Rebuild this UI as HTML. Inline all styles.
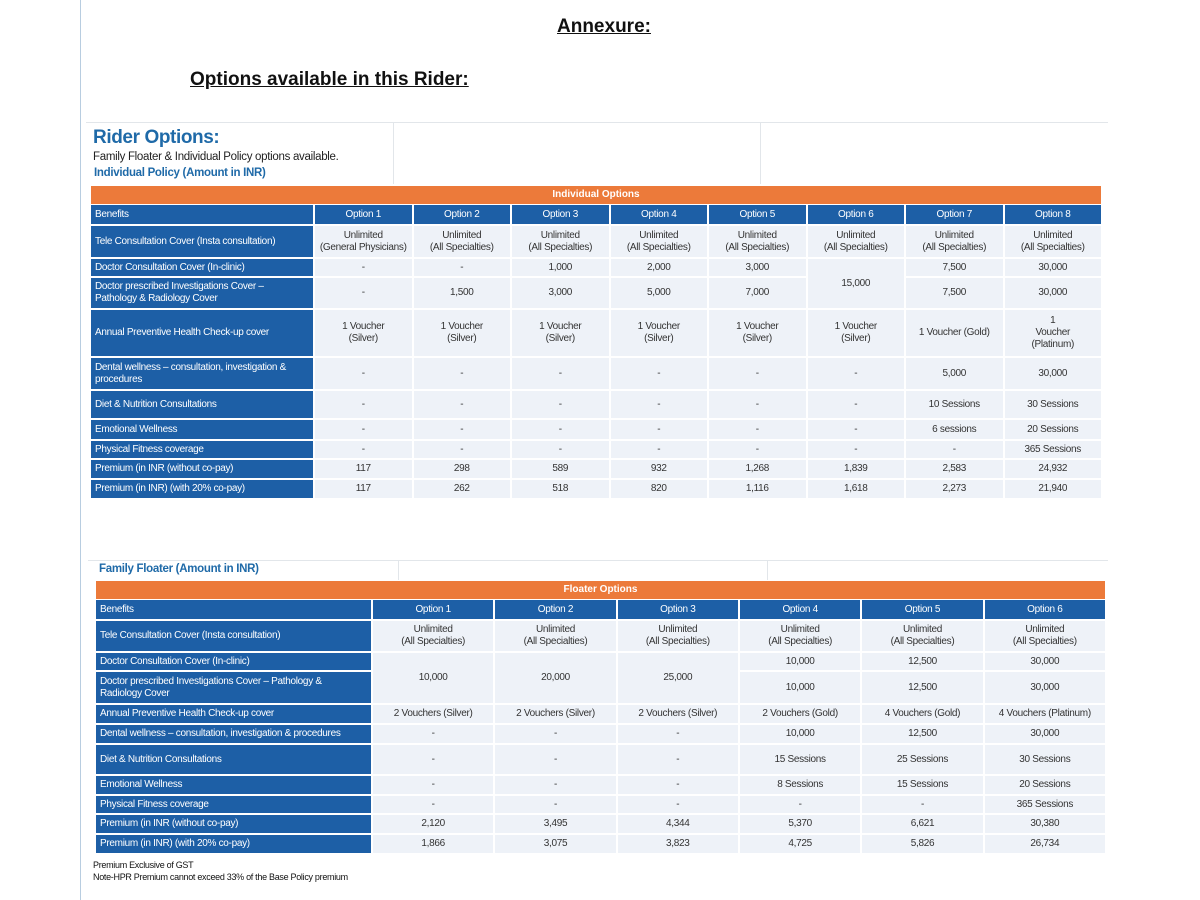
<!DOCTYPE html>
<html><head><meta charset="utf-8"><style>
body{margin:0;width:1200px;height:900px;background:#fff;position:relative;overflow:hidden;font-family:"Liberation Sans",sans-serif;}
.abs{position:absolute;}
h1{position:absolute;margin:0;font-size:19px;font-weight:bold;text-decoration:underline;color:#111;}
table{position:absolute;border-collapse:separate;border-spacing:2px;table-layout:fixed;font-size:10px;letter-spacing:-0.3px;}
td{padding:0;text-align:center;vertical-align:middle;background:#eef2f8;color:#333;line-height:12px;}
td.b{background:#1d5fa6;color:#fff;text-align:left;padding-left:4px;}
tr.h td{background:#1d5fa6;color:#fff;}
.or{position:absolute;background:#ec7a3a;color:#fff;font-weight:bold;font-size:10px;text-align:center;line-height:18px;height:18px;}
</style></head><body>
<div class="abs" style="left:80px;top:0;width:1px;height:900px;background:#b8cde0"></div>
<h1 style="left:557px;top:16px">Annexure:</h1>
<h1 style="left:190px;top:69px">Options available in this Rider:</h1>
<div class="abs" style="left:86px;top:122px;width:1022px;height:1px;background:#e2e6ea"></div>
<div class="abs" style="left:393px;top:122px;width:1px;height:62px;background:#e2e6ea"></div>
<div class="abs" style="left:760px;top:122px;width:1px;height:62px;background:#e2e6ea"></div>
<div class="abs" style="left:93px;top:127px;font-size:19px;font-weight:bold;color:#1f6aa8;letter-spacing:-0.4px">Rider Options:</div>
<div class="abs" style="left:93px;top:151px;font-size:11.5px;color:#222;letter-spacing:-0.3px">Family Floater &amp; Individual Policy options available.</div>
<div class="abs" style="left:94px;top:167px;font-size:11.5px;font-weight:bold;color:#1f6aa8;letter-spacing:-0.3px">Individual Policy (Amount in INR)</div>
<div class="or" style="left:91px;top:186px;width:1010px">Individual Options</div>
<table style="left:89px;top:203px;width:1014px">
<colgroup><col style="width:222px"><col><col><col><col><col><col><col><col></colgroup>
<tr class="h" style="height:19px"><td class="b">Benefits</td><td>Option 1</td><td>Option 2</td><td>Option 3</td><td>Option 4</td><td>Option 5</td><td>Option 6</td><td>Option 7</td><td>Option 8</td></tr>
<tr style="height:31px"><td class="b">Tele Consultation Cover (Insta consultation)</td><td>Unlimited<br>(General Physicians)</td><td>Unlimited<br>(All Specialties)</td><td>Unlimited<br>(All Specialties)</td><td>Unlimited<br>(All Specialties)</td><td>Unlimited<br>(All Specialties)</td><td>Unlimited<br>(All Specialties)</td><td>Unlimited<br>(All Specialties)</td><td>Unlimited<br>(All Specialties)</td></tr>
<tr style="height:17px"><td class="b">Doctor Consultation Cover (In-clinic)</td><td>-</td><td>-</td><td>1,000</td><td>2,000</td><td>3,000</td><td rowspan="2">15,000</td><td>7,500</td><td>30,000</td></tr>
<tr style="height:30px"><td class="b">Doctor prescribed Investigations Cover –<br>Pathology &amp; Radiology Cover</td><td>-</td><td>1,500</td><td>3,000</td><td>5,000</td><td>7,000</td><td>7,500</td><td>30,000</td></tr>
<tr style="height:46px"><td class="b">Annual Preventive Health Check-up cover</td><td>1 Voucher<br>(Silver)</td><td>1 Voucher<br>(Silver)</td><td>1 Voucher<br>(Silver)</td><td>1 Voucher<br>(Silver)</td><td>1 Voucher<br>(Silver)</td><td>1 Voucher<br>(Silver)</td><td>1 Voucher (Gold)</td><td>1<br>Voucher<br>(Platinum)</td></tr>
<tr style="height:31px"><td class="b">Dental wellness – consultation, investigation &amp;<br>procedures</td><td>-</td><td>-</td><td>-</td><td>-</td><td>-</td><td>-</td><td>5,000</td><td>30,000</td></tr>
<tr style="height:27px"><td class="b">Diet &amp; Nutrition Consultations</td><td>-</td><td>-</td><td>-</td><td>-</td><td>-</td><td>-</td><td>10 Sessions</td><td>30 Sessions</td></tr>
<tr style="height:19px"><td class="b">Emotional Wellness</td><td>-</td><td>-</td><td>-</td><td>-</td><td>-</td><td>-</td><td>6 sessions</td><td>20 Sessions</td></tr>
<tr style="height:17px"><td class="b">Physical Fitness coverage</td><td>-</td><td>-</td><td>-</td><td>-</td><td>-</td><td>-</td><td>-</td><td>365 Sessions</td></tr>
<tr style="height:18px"><td class="b">Premium (in INR (without co-pay)</td><td>117</td><td>298</td><td>589</td><td>932</td><td>1,268</td><td>1,839</td><td>2,583</td><td>24,932</td></tr>
<tr style="height:18px"><td class="b">Premium (in INR) (with 20% co-pay)</td><td>117</td><td>262</td><td>518</td><td>820</td><td>1,116</td><td>1,618</td><td>2,273</td><td>21,940</td></tr>
</table>

<div class="abs" style="left:88px;top:560px;width:1020px;height:1px;background:#e2e6ea"></div>
<div class="abs" style="left:398px;top:560px;width:1px;height:20px;background:#e2e6ea"></div>
<div class="abs" style="left:767px;top:560px;width:1px;height:20px;background:#e2e6ea"></div>
<div class="abs" style="left:99px;top:563px;font-size:11.5px;font-weight:bold;color:#1f6aa8;letter-spacing:-0.3px">Family Floater (Amount in INR)</div>
<div class="or" style="left:96px;top:581px;width:1009px">Floater Options</div>
<table style="left:94px;top:598px;width:1013px">
<colgroup><col style="width:275px"><col><col><col><col><col><col></colgroup>
<tr class="h" style="height:19px"><td class="b">Benefits</td><td>Option 1</td><td>Option 2</td><td>Option 3</td><td>Option 4</td><td>Option 5</td><td>Option 6</td></tr>
<tr style="height:30px"><td class="b">Tele Consultation Cover (Insta consultation)</td><td>Unlimited<br>(All Specialties)</td><td>Unlimited<br>(All Specialties)</td><td>Unlimited<br>(All Specialties)</td><td>Unlimited<br>(All Specialties)</td><td>Unlimited<br>(All Specialties)</td><td>Unlimited<br>(All Specialties)</td></tr>
<tr style="height:17px"><td class="b">Doctor Consultation Cover (In-clinic)</td><td rowspan="2">10,000</td><td rowspan="2">20,000</td><td rowspan="2">25,000</td><td>10,000</td><td>12,500</td><td>30,000</td></tr>
<tr style="height:31px"><td class="b">Doctor prescribed Investigations Cover – Pathology &amp;<br>Radiology Cover</td><td>10,000</td><td>12,500</td><td>30,000</td></tr>
<tr style="height:18px"><td class="b">Annual Preventive Health Check-up cover</td><td>2 Vouchers (Silver)</td><td>2 Vouchers (Silver)</td><td>2 Vouchers (Silver)</td><td>2 Vouchers (Gold)</td><td>4 Vouchers (Gold)</td><td>4 Vouchers (Platinum)</td></tr>
<tr style="height:18px"><td class="b">Dental wellness – consultation, investigation &amp; procedures</td><td>-</td><td>-</td><td>-</td><td>10,000</td><td>12,500</td><td>30,000</td></tr>
<tr style="height:29px"><td class="b">Diet &amp; Nutrition Consultations</td><td>-</td><td>-</td><td>-</td><td>15 Sessions</td><td>25 Sessions</td><td>30 Sessions</td></tr>
<tr style="height:18px"><td class="b">Emotional Wellness</td><td>-</td><td>-</td><td>-</td><td>8 Sessions</td><td>15 Sessions</td><td>20 Sessions</td></tr>
<tr style="height:17px"><td class="b">Physical Fitness coverage</td><td>-</td><td>-</td><td>-</td><td>-</td><td>-</td><td>365 Sessions</td></tr>
<tr style="height:18px"><td class="b">Premium (in INR (without co-pay)</td><td>2,120</td><td>3,495</td><td>4,344</td><td>5,370</td><td>6,621</td><td>30,380</td></tr>
<tr style="height:18px"><td class="b">Premium (in INR) (with 20% co-pay)</td><td>1,866</td><td>3,075</td><td>3,823</td><td>4,725</td><td>5,826</td><td>26,734</td></tr>
</table>
<div class="abs" style="left:93px;top:859px;font-size:9px;color:#111;letter-spacing:-0.3px;line-height:12px">Premium Exclusive of GST<br>Note-HPR Premium cannot exceed 33% of the Base Policy premium</div>
</body></html>
